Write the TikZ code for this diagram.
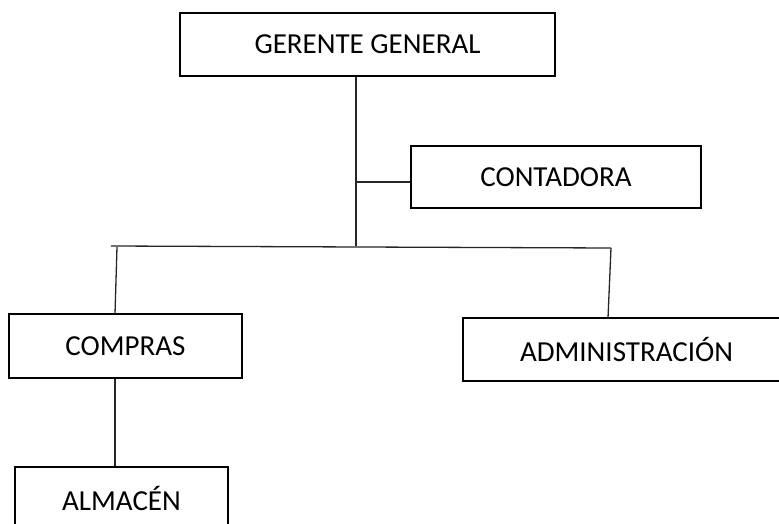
\documentclass[tikz,border=0pt]{standalone}
\usepackage{fontspec}
\setmainfont{Carlito}
\begin{document}
\begin{tikzpicture}[x=1pt,y=-1pt,
  orgbox/.style={draw=black,line width=2.3pt,fill=white,inner sep=0pt,
    font=\fontsize{29}{34}\selectfont,text=black},
  conn/.style={draw=black!85,line width=1.3pt}]
\useasboundingbox (0,0) rectangle (779,524);
\clip (0,0) rectangle (779,524);
\node[orgbox,minimum width=375pt,minimum height=63pt] (G) at (367.5,44.5) {GERENTE GENERAL};
\node[orgbox,minimum width=290pt,minimum height=62pt] (C) at (556,177) {CONTADORA};
\node[orgbox,minimum width=233pt,minimum height=64pt] (CO) at (125.5,346) {COMPRAS};
\node[orgbox,minimum width=327pt,minimum height=63pt] (AD) at (626.5,349.5) {ADMINISTRACIÓN};
\node[orgbox,minimum width=213pt,minimum height=63pt] (AL) at (121.5,498.5) {ALMACÉN};
\coordinate (trunk) at (356,246);
\coordinate (cb) at (356,182);
\coordinate (hl) at (111,246);
\coordinate (hr) at (611,248);
\coordinate (lvt) at (117,247);
\coordinate (lvb) at (115,314);
\coordinate (rvb) at (608,318);
\draw[conn] (G.south -| trunk) -- (trunk);
\draw[conn] (cb) -- (cb -| C.west);
\draw[conn] (hl) -- (hr);
\draw[conn] (lvt) -- (lvb);
\draw[conn] (hr) -- (rvb);
\draw[conn] (CO.south -| lvb) -- (AL.north -| lvb);
\end{tikzpicture}
\end{document}
